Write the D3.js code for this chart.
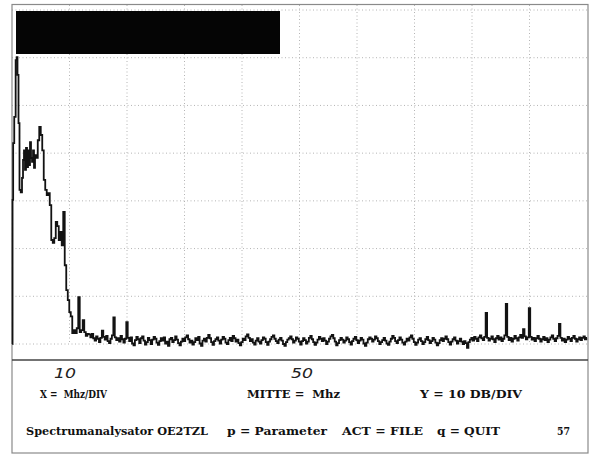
<!DOCTYPE html>
<html>
<head>
<meta charset="utf-8">
<script src="https://cdn.jsdelivr.net/npm/d3@7"></script>
<style>
  html, body { margin: 0; padding: 0; background: #fff; }
  svg { display: block; }
</style>
</head>
<body>
<svg id="scope" width="590" height="455"></svg>
<script>
// Spectrum trace: low-frequency signal region (MHz, dB)
const signalMHz = [0.05, 0.14, 0.26, 0.52, 0.75, 0.87, 1.04, 1.22, 1.39, 1.65, 1.83, 2.0, 2.17, 2.35, 2.52, 2.7, 2.87,
  3.04, 3.22, 3.39, 3.57, 3.74, 3.91, 4.09, 4.35, 4.61, 4.87, 5.13, 5.39, 5.65, 5.91, 6.17, 6.43, 6.7, 6.96, 7.22,
  7.48, 7.74, 8.0, 8.26, 8.52, 8.78, 9.04, 9.3, 9.57, 9.83, 10.09, 10.35, 10.61, 10.87, 11.13, 11.39, 11.65, 11.91,
  12.17, 12.43, 12.7, 12.96, 13.22];
const signalDb = [-70, -39.8, -27.9, -22.4, -10.5, -9.9, -13.6, -23.7, -37.7, -38.2, -35.2, -31.4, -29.4, -33.5, -28.9, -32.9, -29.4,
  -32.5, -27.7, -31.0, -31.8, -29.4, -33.1, -30.4, -31.0, -27.3, -24.5, -26.2, -29.4, -35.6, -37.7, -38.8, -38.4, -40.9, -48.2, -48.8,
  -47.8, -44.4, -45.3, -48.2, -46.5, -49.3, -42.3, -53.5, -58.7, -60.8, -63.3, -64.2, -67.7, -67.1, -67.7, -66.7, -60.2, -67.5,
  -67.1, -65.0, -67.5, -68.3, -67.9];

// Noise floor sweep from 13.5 MHz to 100 MHz, one reading every 0.25 MHz
const floorStartMHz = 13.5;
const floorStepMHz = 0.25;
const floorDb = [
  -68.0, -68.6, -67.9, -68.8, -69.3, -68.4, -68.9, -69.6, -68.7, -67.2, -68.5, -69.1, -68.3, -69.4, -69.8, -68.9, -68.2, -64.4, -68.6, -69.2,
  -68.8, -69.5, -68.3, -69.0, -69.7, -68.9, -65.4, -68.7, -69.4, -68.6, -69.9, -70.3, -69.2, -68.5, -69.0, -69.8, -68.8, -68.4, -69.3, -70.1,
  -69.6, -68.7, -69.2, -70.0, -69.1, -68.5, -68.9, -69.7, -70.2, -69.4, -68.8, -69.3, -68.6, -69.9, -69.5, -70.4, -69.0, -68.7, -69.6, -69.2,
  -68.4, -69.1, -69.8, -70.3, -69.5, -68.9, -69.4, -68.6, -68.2, -69.0, -69.7, -69.3, -70.1, -69.6, -68.8, -69.2, -68.5, -69.9, -70.4, -69.3,
  -68.9, -69.5, -68.7, -68.1, -68.8, -69.6, -70.2, -69.4, -69.0, -68.6, -69.3, -69.9, -69.1, -68.5, -68.9, -69.7, -70.0, -69.2, -68.7, -69.4,
  -68.3, -68.8, -69.5, -69.1, -69.8, -70.3, -69.6, -68.9, -69.2, -68.4, -68.0, -68.7, -69.4, -69.0, -69.7, -70.1, -69.3, -68.8, -69.5, -69.9,
  -69.2, -68.6, -68.9, -69.6, -70.2, -69.5, -69.0, -68.5, -68.2, -68.9, -69.4, -69.8, -69.1, -68.7, -69.3, -70.0, -70.4, -69.6, -69.1, -68.8,
  -68.4, -69.0, -69.7, -69.3, -68.6, -68.9, -69.5, -70.1, -69.4, -68.8, -69.2, -69.9, -69.5, -68.7, -68.3, -69.0, -69.6, -70.2, -69.7, -69.1,
  -68.5, -68.9, -69.4, -68.8, -69.3, -70.0, -69.5, -68.9, -68.4, -68.1, -68.8, -69.5, -70.3, -69.8, -69.2, -68.7, -69.1, -69.7, -69.3, -68.6,
  -69.0, -69.6, -70.1, -69.4, -68.9, -68.5, -69.2, -69.8, -69.3, -68.7, -69.1, -69.9, -70.4, -69.7, -69.0, -68.6, -68.9, -69.5, -69.1, -68.4,
  -68.8, -69.4, -70.0, -69.6, -69.2, -68.7, -69.3, -69.9, -70.2, -69.5, -68.9, -68.3, -68.7, -69.4, -69.8, -69.2, -68.6, -69.1, -69.7, -70.1,
  -69.5, -68.9, -69.3, -68.6, -68.2, -68.9, -69.6, -70.2, -69.7, -69.1, -68.8, -69.4, -70.0, -69.6, -69.0, -68.5, -69.2, -69.8, -69.4, -68.7,
  -69.1, -69.7, -70.3, -69.8, -69.2, -68.8, -69.4, -68.9, -68.4, -69.0, -69.6, -70.1, -69.5, -69.0, -68.6, -69.3, -69.9, -69.4, -68.9, -69.5,
  -70.0, -69.4, -69.8, -70.8, -69.6, -69.1, -68.7, -69.3, -68.5, -68.9, -69.4, -68.6, -68.2, -68.8, -69.2, -68.5, -63.5, -68.7, -69.3, -68.9,
  -68.4, -69.0, -69.6, -68.8, -68.3, -69.1, -68.6, -69.4, -68.9, -68.2, -61.6, -68.5, -69.2, -68.7, -69.5, -68.9, -68.3, -68.8, -69.3, -68.6,
  -68.1, -68.7, -66.9, -68.4, -69.0, -68.6, -62.5, -68.5, -69.1, -68.7, -69.4, -68.8, -68.3, -68.9, -69.5, -69.0, -68.5, -69.2, -68.8, -69.6,
  -69.1, -68.6, -68.2, -68.9, -69.4, -68.8, -68.3, -65.8, -68.7, -69.3, -68.9, -69.6, -69.1, -68.5, -68.9, -69.4, -68.7, -68.3, -68.9, -69.5,
  -69.0, -68.6, -69.2, -68.7, -68.4, -69.0, -68.7
];

// Axis divisions and labels
const xDivisionsMHz = [10, 20, 30, 40, 50, 60, 70, 80, 90];
const yDivisionsDb = [0, -10, -20, -30, -40, -50, -60, -70];
const xLabelTicks = [10, 50];

// Status lines under the screen
const statusRow1 = ["X =  Mhz/DIV", "MITTE =  Mhz", "Y = 10 DB/DIV"];
const statusRow2 = ["Spectrumanalysator OE2TZL", "p = Parameter", "ACT = FILE", "q = QUIT", "57"];

// Layout (left edge, width) of each status segment
const row1Layout = [[40, 67], [247, 93], [420, 102]];
const row2Layout = [[26, 182], [227, 100], [342, 81], [437, 63], [557, 13]];

const svg = d3.select("#scope");

const x = d3.scaleLinear().domain([0, 100]).range([12, 587]);
const y = d3.scaleLinear().domain([0, -70]).range([10, 344]);

// Dotted graticule
const grid = svg.append("g")
  .attr("stroke", "#b4b4b4")
  .attr("stroke-width", 1)
  .attr("stroke-dasharray", "1,2.5");

grid.selectAll("line.v").data(xDivisionsMHz).join("line")
  .attr("class", "v")
  .attr("x1", d => x(d)).attr("x2", d => x(d))
  .attr("y1", 5).attr("y2", y(-70));

grid.selectAll("line.h").data(yDivisionsDb).join("line")
  .attr("class", "h")
  .attr("x1", x(0)).attr("x2", x(100))
  .attr("y1", d => y(d)).attr("y2", d => y(d));

// Screen frame and separator
svg.append("rect")
  .attr("x", 12).attr("y", 4.5).attr("width", 576).attr("height", 448.5)
  .attr("fill", "none").attr("stroke", "#8a8a8a").attr("stroke-width", 1.2);

svg.append("line")
  .attr("x1", 12).attr("x2", 588).attr("y1", 360).attr("y2", 360)
  .attr("stroke", "#444").attr("stroke-width", 1.6);

// Title bar (blacked out)
svg.append("rect")
  .attr("x", 16).attr("y", 11).attr("width", 264).attr("height", 43)
  .attr("fill", "#050505");

// Trace
const tracePoints = signalMHz.map((f, i) => [f, signalDb[i]])
  .concat(floorDb.map((v, i) => [floorStartMHz + i * floorStepMHz, v]));

const line = d3.line()
  .x(d => x(d[0]))
  .y(d => y(d[1]))
  .curve(d3.curveStep);

svg.append("path")
  .datum(tracePoints)
  .attr("d", line)
  .attr("fill", "none")
  .attr("stroke", "#121212")
  .attr("stroke-width", 1.8)
  .attr("stroke-linejoin", "miter");

// Frequency labels
const xAxis = d3.axisBottom(x).tickValues(xLabelTicks).tickSize(0).tickFormat(d3.format("d"));
const axisG = svg.append("g").attr("transform", "translate(0,360)").call(xAxis);
axisG.select(".domain").remove();
axisG.selectAll(".tick text")
  .attr("y", 18)
  .attr("dy", 0)
  .attr("dx", d => d === 10 ? -5 : 2)
  .attr("textLength", 22)
  .attr("lengthAdjust", "spacingAndGlyphs")
  .attr("fill", "#222")
  .style("font-family", "'DejaVu Sans', sans-serif")
  .style("font-style", "italic")
  .style("font-weight", "300")
  .style("font-size", "14px");

// Status text rows
function statusRow(texts, layout, baseline) {
  svg.append("g").selectAll("text").data(texts).join("text")
    .attr("x", (d, i) => layout[i][0])
    .attr("y", baseline)
    .attr("textLength", (d, i) => layout[i][1])
    .attr("lengthAdjust", "spacingAndGlyphs")
    .attr("fill", "#111")
    .style("font-family", "'DejaVu Serif', serif")
    .style("font-weight", "bold")
    .style("font-size", "11.5px")
    .style("white-space", "pre")
    .text(d => d);
}
statusRow(statusRow1, row1Layout, 398);
statusRow(statusRow2, row2Layout, 435);
</script>
</body>
</html>
